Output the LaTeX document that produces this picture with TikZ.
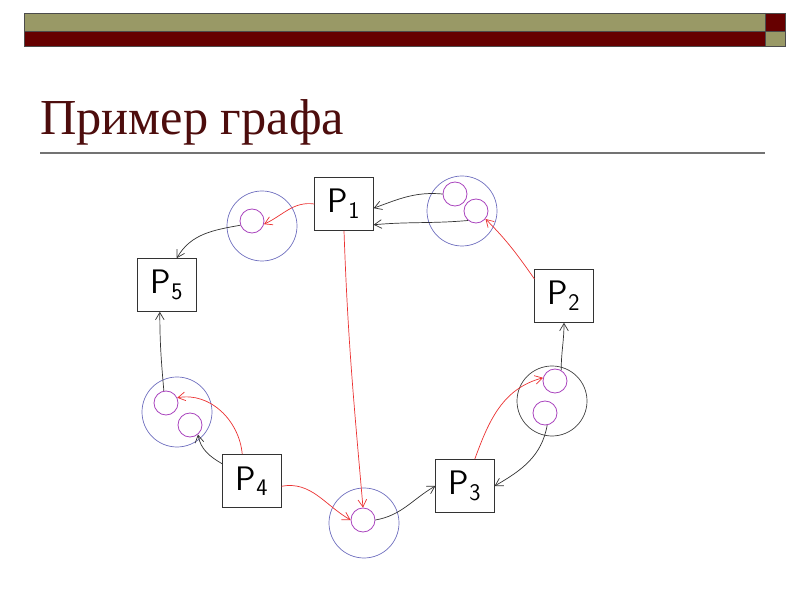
\documentclass[tikz,border=0pt]{standalone}
\usepackage{fontspec}
\setmainfont{Liberation Serif}
\usepackage{tikz}
\usetikzlibrary{arrows.meta, positioning}

\definecolor{olivebar}{RGB}{153,153,102}
\definecolor{darkbar}{RGB}{102,0,0}
\definecolor{titlered}{RGB}{77,13,13}
\definecolor{ringblue}{RGB}{110,110,190}
\definecolor{innerpurple}{RGB}{170,70,190}
\definecolor{edgered}{RGB}{235,50,50}

\begin{document}
\begin{tikzpicture}[x=0.03cm, y=0.03cm,
  proc/.style={draw=black!80, line width=0.8pt, minimum width=1.75cm, minimum height=1.58cm, font=\sffamily\fontsize{29}{29}\selectfont},
  ring/.style={draw=ringblue, line width=0.6pt, circle, minimum size=2.1cm, inner sep=0pt},
  res/.style={draw=innerpurple, line width=0.7pt, circle, minimum size=0.72cm, inner sep=0pt},
  blackarr/.style={-{Straight Barb[length=2.2mm, width=2.6mm]}, black!80, line width=0.6pt},
  redarr/.style={-{Straight Barb[length=2.2mm, width=2.6mm]}, edgered, line width=0.6pt}]
\useasboundingbox (0,0) rectangle (800,-600);

% Header bar
\fill[olivebar] (24,-13) rectangle (765,-31);
\fill[darkbar] (24,-31) rectangle (765,-46);
\fill[darkbar] (765,-13) rectangle (785,-31);
\fill[olivebar] (765,-31) rectangle (785,-46);
\draw[black!70, line width=0.5pt] (24,-13) rectangle (785,-46);
\draw[black!70, line width=0.5pt] (24,-31) -- (785,-31) (765,-13) -- (765,-46);

% Title
\node[anchor=base west, inner sep=0pt, text=titlered, font=\fontsize{43}{43}\selectfont] (title) at (40,-135) {Пример графа};
\draw[black!55, line width=1.2pt] (40,-153) -- (765,-153);

% Processes
\node[proc] (p1) at (344,-204) {P\textsubscript{1}};
\node[proc] (p2) at (564,-296) {P\textsubscript{2}};
\node[proc] (p3) at (465,-486) {P\textsubscript{3}};
\node[proc] (p4) at (252,-481) {P\textsubscript{4}};
\node[proc] (p5) at (167,-285) {P\textsubscript{5}};

% Resources
\node[ring] (r1) at (262,-226) {};
\node[res] (r1a) at (252,-221) {};

\node[ring] (r2) at (462,-211) {};
\node[res] (r2a) at (455,-194) {};
\node[res] (r2b) at (476,-211) {};

\node[ring] (r3) at (177,-412) {};
\node[res] (r3a) at (166,-403) {};
\node[res] (r3b) at (190,-425) {};

\node[ring] (r4) at (364,-523) {};
\node[res] (r4a) at (363,-520) {};

\node[ring, draw=black!75] (r5) at (552,-401) {};
\node[res] (r5a) at (555,-381) {};
\node[res] (r5b) at (545,-413) {};

% Requests and assignments
\draw[redarr] (p1.west) to[out=172, in=25] (r1a.-15);
\draw[blackarr] (r1a.200) to[out=190, in=60] (p5.70);
\draw[blackarr] (r2a.west) to[out=175, in=20] (p1.-8);
\draw[blackarr] (r2b.230) to[out=185, in=5] (p1.-35);
\draw[redarr] (p2.150) to[out=125, in=-45] (r2b.-40);
\draw[blackarr] (r5a.60) to[out=90, in=-90] (p2.south);
\draw[redarr] (p3.70) to[out=70, in=195] (r5a.165);
\draw[blackarr] (r5b.-80) to[out=-100, in=30] (p3.east);
\draw[blackarr] (r4a.east) to[out=10, in=210] (p3.west);
\draw[redarr] (p1.south) to[out=-88, in=95] (r4a.north);
\draw[redarr] (p4.-10) to[out=10, in=150] (r4a.west);
\draw[redarr] (p4.110) to[out=95, in=10] (r3a.25);
\draw[blackarr] (p4.150) to[out=150, in=-80] (r3b.-50);
\draw[blackarr] (r3a.100) to[out=95, in=-90] (p5.-105);
\end{tikzpicture}
\end{document}
